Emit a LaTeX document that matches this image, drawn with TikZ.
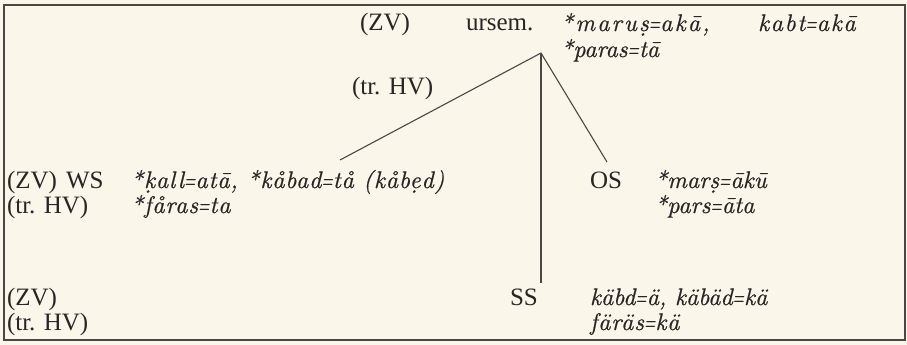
\documentclass[tikz,border=0pt]{standalone}
\usepackage{fontspec}
\setmainfont{Liberation Serif}
\newfontfamily\formfont[FakeBold=0.6]{lmroman10-italic.otf}
\newfontfamily\formfontw[FakeBold=0.6,LetterSpace=9]{lmroman10-italic.otf}
\newfontfamily\formfontv[FakeBold=0.6,LetterSpace=7]{lmroman10-italic.otf}
\newfontfamily\formfontm[FakeBold=0.6,LetterSpace=3.5]{lmroman10-italic.otf}
\usepackage{graphicx}
\definecolor{paper}{RGB}{250,246,234}
\definecolor{ink}{RGB}{40,38,36}
\definecolor{rule}{RGB}{75,72,68}
\newcommand{\eqs}{\scalebox{0.62}[1]{=}}
\begin{document}
\begin{tikzpicture}[x=1pt,y=-1pt,
  lbl/.style={inner sep=0pt, outer sep=0pt, text=ink, font=\fontsize{25}{30}\selectfont, anchor=base west},
  form/.style={lbl, font=\fontsize{24}{30}\formfont},
  formw/.style={lbl, font=\fontsize{24}{30}\formfontw},
  formv/.style={lbl, font=\fontsize{24}{30}\formfontv},
  formm/.style={lbl, font=\fontsize{24}{30}\formfontm},
  branch/.style={draw=rule, line width=1.1pt},
  frame/.style={draw=rule, line width=1.2pt}]
\fill[paper] (0,0) rectangle (907,345);
\useasboundingbox (0,0) rectangle (907,345);
\draw[frame] (4,5) rectangle (905,340);
% top
\node[lbl] (zvtop) at (360,31) {(ZV)};
\node[lbl] (urs) at (466,31) {ursem.};
\node[formw] (fa) at (561,31) {*maruṣ\eqs akā,};
\node[formv] (fa2) at (758,31) {kabt\eqs akā};
\node[form] (fb) at (561,57) {*paras\eqs tā};
\node[lbl] (hvtop) at (352,94) {(tr. HV)};
% WS
\node[lbl] (zvws) at (7,188) {(ZV)};
\node[lbl] (ws) at (66,188) {WS};
\node[formm] (wsa) at (131,188) {*k^^^^0323all\eqs atā, *kåbad\eqs tå (kåbẹd)};
\node[lbl] (hvws) at (7,213) {(tr. HV)};
\node[formm] (wsb) at (131,213) {*fåras\eqs ta};
% OS
\node[lbl] (os) at (590,188) {OS};
\node[form] (osa) at (655,188) {*marṣ\eqs ākū};
\node[form] (osb) at (655,213) {*pars\eqs āta};
% SS
\node[lbl] (zvss) at (7,305) {(ZV)};
\node[lbl] (ss) at (510,305) {SS};
\node[form] (ssa) at (590,305) {käbd\eqs ä, käbäd\eqs kä};
\node[lbl] (hvss) at (7,330) {(tr. HV)};
\node[formm] (ssb) at (590,330) {färäs\eqs kä};
% branches
\coordinate (apex) at (541,53);
\coordinate (wsend) at (340,160);
\coordinate (osend) at (607,162);
\coordinate (ssend) at (541,283);
\draw[branch] (wsend) -- (apex) -- (osend);
\draw[branch] (apex) -- (ssend);
\end{tikzpicture}
\end{document}
